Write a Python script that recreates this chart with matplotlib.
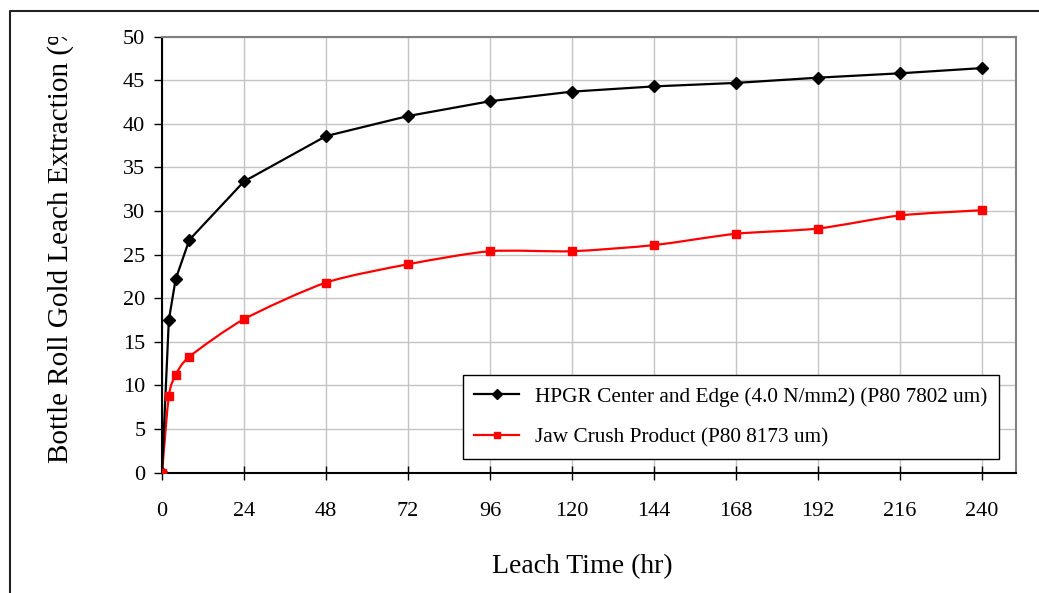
import numpy as np
import matplotlib
matplotlib.use('Agg')
import matplotlib.pyplot as plt
from matplotlib.path import Path
from matplotlib.patches import PathPatch
from matplotlib.lines import Line2D
from matplotlib.transforms import Bbox

# data
hours = [0, 2, 4, 8, 24, 48, 72, 96, 120, 144, 168, 192, 216, 240]
hpgr = [0, 17.5, 22.2, 26.7, 33.4, 38.6, 40.9, 42.6, 43.7, 44.3, 44.7, 45.3, 45.8, 46.4]
jaw = [0, 8.8, 11.2, 13.3, 17.6, 21.8, 23.9, 25.4, 25.4, 26.1, 27.4, 28.0, 29.5, 30.1]
hpgr_label = 'HPGR Center and Edge (4.0 N/mm2) (P80 7802 um)'
jaw_label = 'Jaw Crush Product (P80 8173 um)'
x_ticks = list(range(0, 241, 24))
y_ticks = list(range(0, 51, 5))

plt.rcParams['font.family'] = ['Liberation Serif', 'DejaVu Serif']


def smooth_path(x, y, k=1 / 6):
    # excel style smoothed line: catmull-rom as cubic bezier
    pts = np.column_stack([x, y]).astype(float)
    n = len(pts)
    verts = [pts[0]]
    codes = [Path.MOVETO]
    for i in range(n - 1):
        p0 = pts[max(i - 1, 0)]
        p1 = pts[i]
        p2 = pts[i + 1]
        p3 = pts[min(i + 2, n - 1)]
        verts += [p1 + (p2 - p0) * k, p2 - (p3 - p1) * k, p2]
        codes += [Path.CURVE4] * 3
    return Path(verts, codes)


W, H = 1039, 593
fig = plt.figure(figsize=(W / 100, H / 100), dpi=100)
ax = fig.add_axes([162 / W, 1 - 472.7 / H, (1016 - 162) / W, (472.7 - 36.7) / H])

ax.plot(hours, hpgr, color='black', lw=1.6, marker='D', ms=6, zorder=4)
ax.add_patch(PathPatch(smooth_path(hours, jaw, 1 / 8), fill=False, edgecolor='red', lw=1.6, zorder=3))
ax.plot(hours, jaw, ls='none', color='red', marker='s', ms=6, zorder=4)

ax.set_xlim(0, 250)
ax.set_ylim(0, 50)
ax.set_xticks(x_ticks)
ax.set_yticks(y_ticks)
ax.grid(True, color='#c4c4c4', lw=1)
ax.set_axisbelow(True)

for s in ['top', 'right']:
    ax.spines[s].set_color('#808080')
    ax.spines[s].set_linewidth(1.5)
for s in ['left', 'bottom']:
    ax.spines[s].set_color('black')
    ax.spines[s].set_linewidth(1.5)

ax.tick_params(axis='x', direction='inout', length=10, width=1, pad=16, labelsize=16)
ax.tick_params(axis='y', direction='out', length=5.5, width=1, pad=6.5, labelsize=16)

ax.set_xlabel('Leach Time (hr)', fontsize=20)
ax.xaxis.set_label_coords(0.4918, -0.1865)

ylab = fig.text(61 / W, 1 - 463 / H, 'Bottle Roll Gold Leach Extraction (%)', rotation=90,
                ha='center', va='bottom', fontsize=21)
ylab.set_clip_box(Bbox([[0, 0], [W, H - 37]]))
ylab.set_clip_on(True)

handles = [Line2D([], [], color='black', lw=1.6, marker='D', ms=5),
           Line2D([], [], color='red', lw=1.6, marker='s', ms=5)]
leg = ax.legend(handles, [hpgr_label, jaw_label], loc='lower left',
                bbox_to_anchor=(0.352, 0.0307), fontsize=15.3, frameon=True,
                fancybox=False, edgecolor='black', framealpha=1,
                handlelength=2.1, labelspacing=0.98, borderpad=0.55, handletextpad=0.75,
                borderaxespad=0)
leg.get_frame().set_linewidth(1)

# outer frame (only left and top edges visible)
fig.add_artist(Line2D([10 / W, 10 / W, 1], [0, 1 - 10.5 / H, 1 - 10.5 / H],
                      transform=fig.transFigure, color='#222222', lw=1.5))

fig.savefig('out.png', dpi=100)
